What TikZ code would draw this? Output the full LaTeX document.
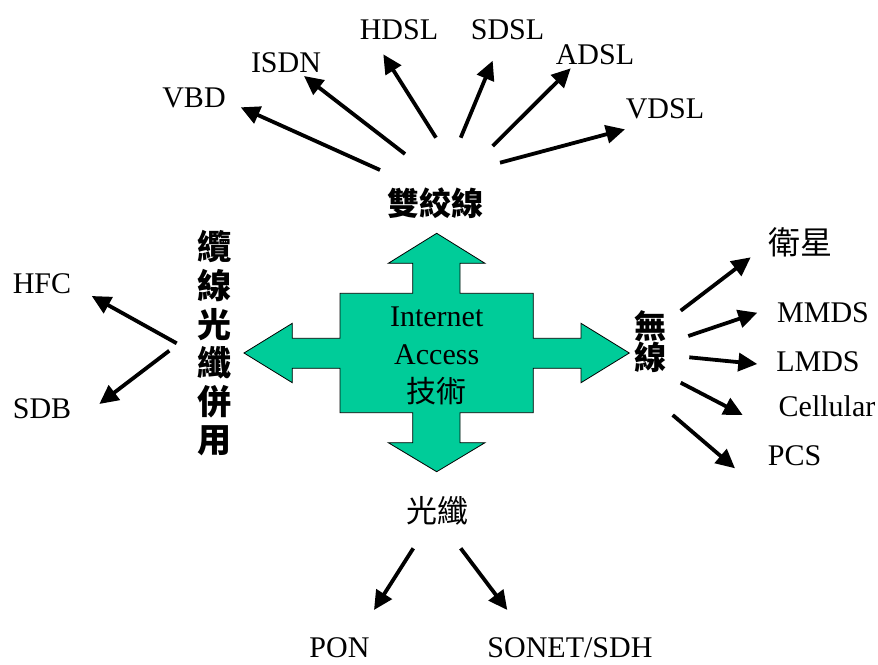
\documentclass[tikz,border=0pt]{standalone}
\usepackage{fontspec}
\setmainfont{Liberation Serif}
\newfontfamily\cjk{Noto Sans CJK TC}
\usetikzlibrary{arrows.meta}
\definecolor{crossgreen}{HTML}{00CC99}
\tikzset{
  lbl/.style={inner sep=0pt, anchor=base, font=\fontsize{30}{36}\selectfont},
  cjklbl/.style={inner sep=0pt, anchor=center, font=\cjk\fontsize{31}{36}\selectfont},
  cjkbold/.style={inner sep=0pt, anchor=center, align=center, font=\cjk\bfseries\fontsize{32}{31}\selectfont},
  conn/.style={line width=3.8pt, -{Triangle[length=19pt,width=18pt]}},
  crossbox/.style={fill=crossgreen, draw=black, line width=0.8pt, line join=miter}
}
\begin{document}
\begin{tikzpicture}[x=1pt,y=-1pt]
\useasboundingbox (0,0) rectangle (878,664);
% central cross arrow
\draw[crossbox] (436.7,233.3) -- (485,263.3) -- (460,263.3) -- (460,293.3) -- (533.3,293.3) -- (533.3,338.3) -- (581,338.3) -- (581,323.3) -- (629.3,353) -- (581,382.7) -- (581,368.3) -- (533.3,368.3) -- (533.3,412.7) -- (460,412.7) -- (460,442.7) -- (485,442.7) -- (436.7,471.7) -- (388.3,442.7) -- (412.7,442.7) -- (412.7,412.7) -- (340,412.7) -- (340,368.3) -- (292.3,368.3) -- (292.3,382.7) -- (244,353) -- (292.3,323.3) -- (292.3,338.3) -- (340,338.3) -- (340,293.3) -- (412.7,293.3) -- (412.7,263.3) -- (388.3,263.3) -- cycle;
\node[lbl] (inet) at (436.7,326) {Internet};
\node[lbl] (acc) at (436.7,364) {Access};
\node[cjklbl, font=\cjk\fontsize{30}{36}\selectfont] (tech) at (436.7,391.5) {技術};

% category labels
\node[cjkbold] (twist) at (435.5,203) {雙絞線};
\node[cjkbold] (wire) at (650,342) {無\\線};
\node[cjkbold, font=\cjk\bfseries\fontsize{34}{38.6}\selectfont] (hybrid) at (214,343.5) {纜\\線\\光\\纖\\併\\用};
\node[cjklbl] (fiber) at (437.5,511) {光纖};

% leaf labels
\node[lbl] (vbd) at (194,107) {VBD};
\node[lbl] (isdn) at (286,72) {ISDN};
\node[lbl] (hdsl) at (399,39) {HDSL};
\node[lbl] (sdsl) at (507.5,39) {SDSL};
\node[lbl] (adsl) at (595,64) {ADSL};
\node[lbl] (vdsl) at (665,118) {VDSL};
\node[cjklbl, font=\cjk\fontsize{32}{36}\selectfont] (sat) at (800,242) {衛星};
\node[lbl] (mmds) at (823,322) {MMDS};
\node[lbl] (lmds) at (818,371) {LMDS};
\node[lbl] (cell) at (827,416) {Cellular};
\node[lbl] (pcs) at (794.5,465) {PCS};
\node[lbl] (hfc) at (42,293) {HFC};
\node[lbl] (sdb) at (42,418) {SDB};
\node[lbl, text depth=0pt] (pon) at (339.5,657) {PON};
\node[lbl, text depth=0pt] (sonet) at (570,657) {SONET/SDH};

% connector end points
\coordinate (vbdS) at (380,170);     \coordinate (vbdE) at (240.7,107.3);
\coordinate (isdnS) at (405,154);    \coordinate (isdnE) at (304,76);
\coordinate (hdslS) at (436,137.7);  \coordinate (hdslE) at (383.3,54.3);
\coordinate (sdslS) at (460.7,137.7);\coordinate (sdslE) at (492.7,60.7);
\coordinate (adslS) at (492.7,146);  \coordinate (adslE) at (570.7,68.3);
\coordinate (vdslS) at (500,162.7);  \coordinate (vdslE) at (625,129.3);
\coordinate (satS) at (680.7,310.7); \coordinate (satE) at (750.7,257.3);
\coordinate (mmdsS) at (688.3,336);  \coordinate (mmdsE) at (757.3,312.7);
\coordinate (lmdsS) at (689.3,357.3);\coordinate (lmdsE) at (757.3,364);
\coordinate (cellS) at (680.7,382.7);\coordinate (cellE) at (742.7,415);
\coordinate (pcsS) at (672.7,415);   \coordinate (pcsE) at (735,468.3);
\coordinate (hfcS) at (176.7,343.3); \coordinate (hfcE) at (91.7,296);
\coordinate (sdbS) at (169.3,350.7); \coordinate (sdbE) at (99.3,404);
\coordinate (ponS) at (413.3,548.3); \coordinate (ponE) at (374,610);
\coordinate (sonS) at (460.7,548.3); \coordinate (sonE) at (507.3,610);

\foreach \n in {vbd,isdn,hdsl,sdsl,adsl,vdsl,sat,mmds,lmds,cell,pcs,hfc,sdb,pon,son}
  \draw[conn] (\n S) -- (\n E);
\end{tikzpicture}
\end{document}
